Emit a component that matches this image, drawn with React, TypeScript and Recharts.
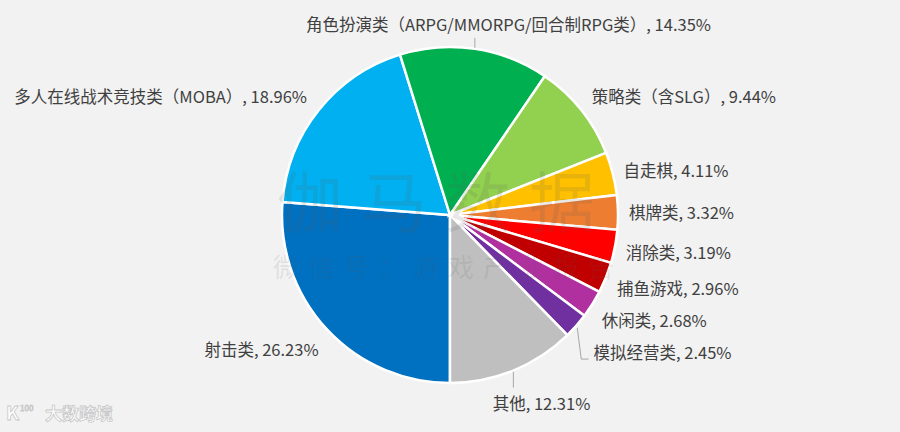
import { PieChart, Pie, Cell } from 'recharts';

const categories = [
	'射击类',
	'多人在线战术竞技类（MOBA）',
	'角色扮演类（ARPG/MMORPG/回合制RPG类）',
	'策略类（含SLG）',
	'自走棋',
	'棋牌类',
	'消除类',
	'捕鱼游戏',
	'休闲类',
	'模拟经营类',
	'其他',
];
const shares = [26.23, 18.96, 14.35, 9.44, 4.11, 3.32, 3.19, 2.96, 2.68, 2.45, 12.31];
const sliceColors = [
	'#0070C0',
	'#00B0F0',
	'#00B050',
	'#92D050',
	'#FFC000',
	'#ED7D31',
	'#FF0000',
	'#C00000',
	'#B0309F',
	'#7030A0',
	'#BFBFBF',
];

const data = categories.map((name, i) => ({ name, value: shares[i] }));

// hand-tuned nudges so the labels sit where the original put them
const labelNudge: { dx: number; dy: number; anchor?: string; line?: string }[] = [
	{ dx: 0, dy: 12 },
	{ dx: -3, dy: -7 },
	{ dx: 32, dy: -14, anchor: 'middle', line: 'up' },
	{ dx: 2, dy: -7 },
	{ dx: 0, dy: -1 },
	{ dx: 0, dy: 0 },
	{ dx: 0, dy: 3 },
	{ dx: 1, dy: 6 },
	{ dx: 0, dy: 10 },
	{ dx: 9, dy: 19, line: 'elbow' },
	{ dx: 24, dy: 22, anchor: 'middle', line: 'down' },
];

const RADIAN = Math.PI / 180;
const FONT = '"Noto Sans CJK SC", "Noto Sans", sans-serif';

const renderLabel = (props: any) => {
	const { cx, cy, midAngle, outerRadius, index, name, value } = props;
	const cos = Math.cos(-midAngle * RADIAN);
	const sin = Math.sin(-midAngle * RADIAN);
	const ex = cx + outerRadius * cos;
	const ey = cy + outerRadius * sin;
	const bx = cx + (outerRadius + 11) * cos;
	const by = cy + (outerRadius + 11) * sin;
	const n = labelNudge[index] || { dx: 0, dy: 0 };
	const x = bx + n.dx;
	const y = by + n.dy;
	const anchor = n.anchor || (cos >= 0 ? 'start' : 'end');

	let line = null;
	if (n.line === 'up') {
		line = <line x1={ex} y1={ey - 1} x2={ex} y2={ey - 11} stroke="#A6A6A6" strokeWidth={1} />;
	} else if (n.line === 'down') {
		line = <line x1={ex} y1={ey + 1} x2={ex} y2={ey + 17} stroke="#A6A6A6" strokeWidth={1} />;
	} else if (n.line === 'elbow') {
		line = (
			<polyline
				points={`${ex + 1},${ey + 2} ${ex + 5},${y + 7} ${x - 5},${y + 7}`}
				fill="none"
				stroke="#A6A6A6"
				strokeWidth={1}
			/>
		);
	}

	return (
		<g>
			{line}
			<text
				x={x}
				y={y}
				textAnchor={anchor}
				dominantBaseline="central"
				fill="#404040"
				fontSize={16.5}
				fontFamily={FONT}
			>
				{`${name}, ${value.toFixed(2)}%`}
			</text>
		</g>
	);
};

export default function App() {
	return (
		<div
			style={{
				position: 'absolute',
				left: 0,
				top: 0,
				width: 900,
				height: 432,
				background: '#F2F2F2',
				overflow: 'hidden',
			}}
		>
			<PieChart width={900} height={432} margin={{ top: 0, right: 0, bottom: 0, left: 0 }}>
				<Pie
					data={data}
					dataKey="value"
					nameKey="name"
					cx={450}
					cy={215}
					outerRadius={168}
					startAngle={270}
					endAngle={-90}
					stroke="#FFFFFF"
					strokeWidth={2.5}
					label={renderLabel}
					labelLine={false}
					isAnimationActive={false}
				>
					{data.map((d, i) => (
						<Cell key={d.name} fill={sliceColors[i]} />
					))}
				</Pie>
			</PieChart>
			<svg
				width={900}
				height={432}
				style={{ position: 'absolute', left: 0, top: 0, pointerEvents: 'none' }}
			>
				<text
					x={445}
					y={198}
					textAnchor="middle"
					dominantBaseline="central"
					fontSize={66}
					letterSpacing={18}
					fontFamily={FONT}
					fill="rgba(90,90,90,0.14)"
				>
					伽马数据
				</text>
				<text
					x={448}
					y={265}
					textAnchor="middle"
					dominantBaseline="central"
					fontSize={26}
					letterSpacing={9}
					fontFamily={FONT}
					fill="rgba(90,90,90,0.12)"
				>
					微信号：游戏产业报告
				</text>
				<g fill="#FFFFFF" stroke="#C8C8C8" strokeWidth={0.8} fontFamily={FONT}>
					<text x={6} y={420} fontSize={19} fontWeight={700}>
						K
					</text>
					<text x={20} y={411} fontSize={8}>
						100
					</text>
					<text x={45} y={420} fontSize={17} fontWeight={700}>
						大数跨境
					</text>
				</g>
			</svg>
		</div>
	);
}
